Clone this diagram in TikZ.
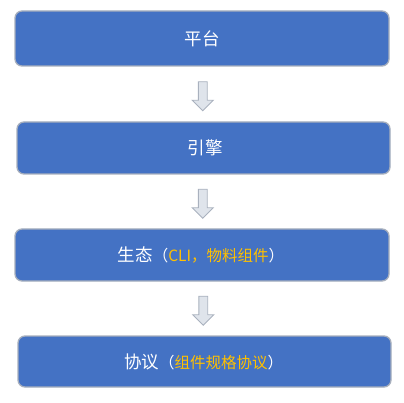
\documentclass[tikz,border=0pt]{standalone}
\usepackage{fontspec}
\setmainfont{Noto Sans CJK SC}
\usetikzlibrary{shapes.arrows,calc}
\definecolor{boxblue}{HTML}{4472C4}
\definecolor{boxline}{HTML}{A7AFBD}
\definecolor{arrfill}{HTML}{DFE4EB}
\definecolor{arrline}{HTML}{A9B1BE}
\definecolor{hl}{HTML}{FFC000}
\newcommand\mysubsize{\fontsize{15.5}{17}\selectfont}
\tikzset{
  layerbox/.style={draw=boxline, line width=1.3pt, fill=boxblue, rounded corners=7pt,
    text=white, font=\fontsize{17.5}{19}\selectfont, inner sep=0pt},
  blockarrow/.style={shape=single arrow, draw=arrline, line width=0.9pt, fill=arrfill,
    rotate=-90, minimum height=29pt, inner sep=4pt, single arrow head extend=6pt,
    single arrow head indent=0pt}
}
\begin{document}
\begin{tikzpicture}[x=1pt,y=-1pt]
\useasboundingbox (0,0) rectangle (404,403);
\node[layerbox, minimum width=374pt, minimum height=55pt] (b1) at (202,38.5) {平台};
\node[layerbox, minimum width=373pt, minimum height=52pt] (b2) at (203.5,148) {\hspace*{3pt}引擎};
\node[layerbox, minimum width=374pt, minimum height=52pt] (b3) at (202,255)
  {生态{\mysubsize（\textcolor{hl}{CLI，物料组件}）}\hspace*{2pt}};
\node[layerbox, minimum width=373pt, minimum height=51pt] (b4) at (204.5,361.5)
  {协议{\mysubsize（\textcolor{hl}{组件规格协议}）}\hspace*{2pt}};
\node[blockarrow] (a1) at ($(b1.south)!0.5!(b2.north)$) {};
\node[blockarrow] (a2) at ($(b2.south)!0.5!(b3.north)$) {};
\node[blockarrow] (a3) at ($(b3.south)!0.5!(b4.north)$) {};
\end{tikzpicture}
\end{document}
